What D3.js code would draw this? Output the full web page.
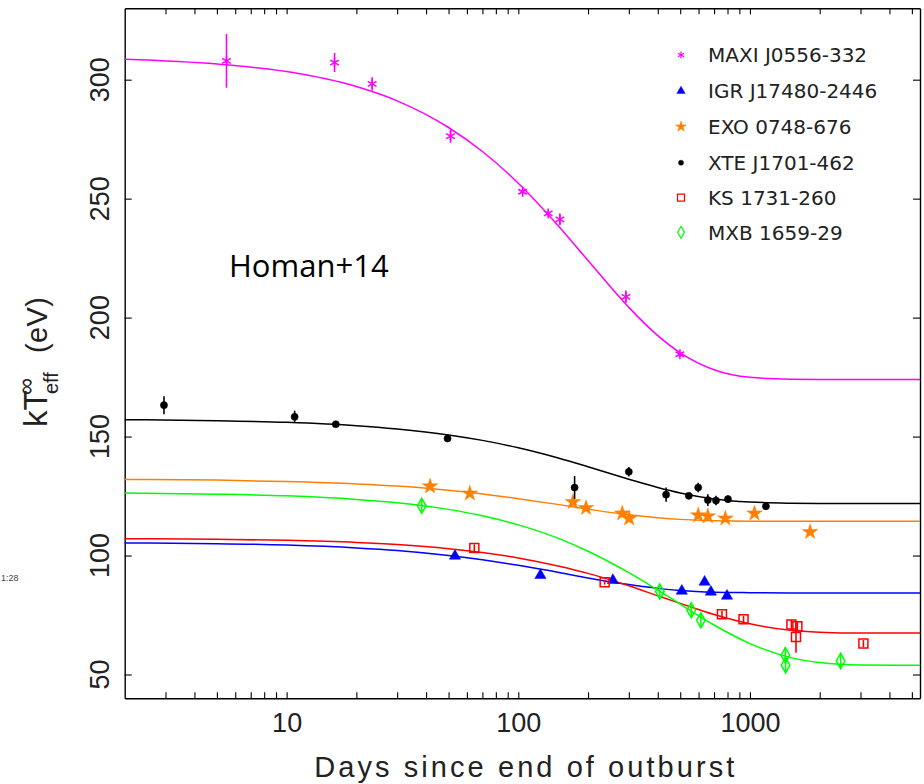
<!DOCTYPE html>
<html>
<head>
<meta charset="utf-8">
<script src="https://cdn.jsdelivr.net/npm/d3@7"></script>
<style>
  html, body { margin: 0; padding: 0; background: #fff; }
  svg { display: block; }
</style>
</head>
<body>
<svg id="chart" width="924" height="784"></svg>
<script>
// ---------------- DATA ----------------
const seriesNames = ["MAXI J0556-332", "IGR J17480-2446", "EXO 0748-676", "XTE J1701-462", "KS 1731-260", "MXB 1659-29"];

const maxiDays = [5.5, 16.1, 23.4, 51, 104.4, 134.6, 151.2, 291.4, 498.5];
const maxiKT   = [307.9, 307.2, 298.2, 276.3, 252.9, 243.8, 241.3, 208.7, 184.6];
const maxiErr  = [11.3, 4, 2.8, 2.8, 1.2, 1.2, 2.5, 2.7, 1.2];

const igrDays = [53.3, 124.6, 256, 508, 637, 678, 796];
const igrKT   = [99.8, 91.7, 89.6, 85.1, 88.9, 84.7, 83.0];
const igrErr  = [0.5, 0.5, 0.5, 0.5, 0.5, 0.5, 0.5];

const exoDays = [41.6, 61.8, 172, 196, 281, 301, 598, 658, 783, 1046, 1818];
const exoKT   = [129.1, 126.1, 122.5, 120.0, 117.7, 115.6, 116.9, 116.5, 115.6, 117.7, 109.9];
const exoErr  = [1, 1, 1, 1, 1, 1, 1, 1, 1, 1, 1];

const xteDays = [2.955, 10.83, 16.3, 49.5, 175, 300, 434.5, 544.5, 597.9, 658, 713.6, 803.6, 1172];
const xteKT   = [163.2, 158.3, 155.2, 149.2, 128.6, 135.2, 125.6, 125.1, 128.6, 123.3, 123.1, 123.7, 120.7];
const xteErr  = [3.8, 2.6, 0.8, 0.8, 4.8, 2, 3, 1, 2, 2.5, 2, 1.5, 1.5];

const ksDays = [64.6, 236, 757, 938, 1510, 1602, 1580, 3088];
const ksKT   = [103.2, 88.8, 75.3, 73.2, 71.0, 70.3, 65.8, 63.0];
const ksErr  = [1.5, 1, 1.5, 1.5, 2, 2, 6.7, 1.5];

const mxbDays = [38.3, 408, 558, 614, 1421, 1425, 2462];
const mxbKT   = [120.9, 84.9, 77.0, 72.8, 58.1, 53.9, 55.7];
const mxbErr  = [2.5, 2.5, 3, 3, 3.5, 3.5, 3.5];

// fitted cooling curves
const fitDays = [2, 5, 10, 20, 30, 50, 70, 100, 150, 200, 300, 400, 500, 700, 1000, 1500, 2000, 3000, 5420];
const maxiFit = [308.6, 306.6, 303.4, 297.1, 291.1, 279.9, 269.8, 256.5, 238.2, 224.0, 204.3, 192.4, 185.2, 178.1, 174.9, 174.1, 174.0, 174.0, 174.0];
const igrFit  = [105.3, 105.0, 104.4, 103.2, 102.1, 100.0, 98.2, 95.9, 92.9, 90.6, 87.8, 86.2, 85.3, 84.6, 84.4, 84.3, 84.3, 84.3, 84.3];
const exoFit  = [132.0, 131.7, 131.1, 130.1, 129.2, 127.4, 125.9, 123.9, 121.4, 119.5, 117.1, 115.9, 115.2, 114.6, 114.4, 114.4, 114.4, 114.4, 114.4];
const xteFit  = [157.1, 156.7, 156.0, 154.6, 153.2, 150.7, 148.4, 145.3, 140.9, 137.3, 132.1, 128.6, 126.3, 123.8, 122.5, 122.0, 121.9, 121.9, 121.9];
const ksFit   = [107.1, 106.8, 106.4, 105.5, 104.6, 102.9, 101.3, 99.0, 95.5, 92.5, 87.3, 83.1, 79.9, 75.2, 71.3, 68.6, 67.8, 67.4, 67.4];
const mxbFit  = [126.3, 125.8, 125.1, 123.6, 122.2, 119.4, 116.7, 112.9, 107.1, 101.8, 92.8, 85.5, 79.6, 70.8, 63.0, 57.1, 55.0, 54.0, 53.9];

const xTickLabels = [10, 100, 1000];
const yTickValues = [50, 100, 150, 200, 250, 300];

// ---------------- LAYOUT ----------------
const L = 124.7, R = 920, T = 8.3, B = 698.3;
const svg = d3.select("#chart");

const x = d3.scaleLog().domain([2, 5420]).range([L, R]);
const y = d3.scaleLinear().domain([40, 330]).range([B, T]);

// custom symbols
const asterisk = {
  draw(ctx, size) {
    const r = Math.sqrt(size) / 2;
    ctx.moveTo(0, -r); ctx.lineTo(0, r);
    const dx = r * Math.cos(Math.PI / 6), dy = r * Math.sin(Math.PI / 6);
    ctx.moveTo(-dx, -dy); ctx.lineTo(dx, dy);
    ctx.moveTo(-dx, dy); ctx.lineTo(dx, -dy);
  }
};

const series = [
  { name: seriesNames[0], days: maxiDays, kt: maxiKT, err: maxiErr, fit: maxiFit, color: "#ff00ff", sym: asterisk, size: 100, fill: false, lsize: 50 },
  { name: seriesNames[1], days: igrDays, kt: igrKT, err: igrErr, fit: igrFit, color: "#0000ff", sym: d3.symbolTriangle, size: 55, fill: true, lsize: 30 },
  { name: seriesNames[2], days: exoDays, kt: exoKT, err: exoErr, fit: exoFit, color: "#ff8000", sym: d3.symbolStar, size: 75, fill: true, lsize: 35 },
  { name: seriesNames[3], days: xteDays, kt: xteKT, err: xteErr, fit: xteFit, color: "#000000", sym: d3.symbolCircle, size: 40, fill: true, lsize: 20 },
  { name: seriesNames[4], days: ksDays, kt: ksKT, err: ksErr, fit: ksFit, color: "#ff0000", sym: d3.symbolSquare, size: 81, fill: false, lsize: 49 },
  { name: seriesNames[5], days: mxbDays, kt: mxbKT, err: mxbErr, fit: mxbFit, color: "#00ff00", sym: d3.symbolDiamond, size: 65, fill: false, lsize: 40 }
];

// ---------------- AXES ----------------
const allXTicks = [];
[1, 10, 100, 1000].forEach(dec => { for (let k = 1; k <= 9; k++) { const v = dec * k; if (v > 2 && v < 5420) allXTicks.push(v); } });

const axisFont = "'Liberation Sans', Arial, sans-serif";

const gxB = svg.append("g").attr("transform", `translate(0,${B})`)
  .call(d3.axisBottom(x).tickValues(allXTicks).tickSize(-6).tickSizeOuter(0).tickPadding(15)
    .tickFormat(d => xTickLabels.includes(d) ? String(d) : ""));
const gxT = svg.append("g").attr("transform", `translate(0,${T})`)
  .call(d3.axisTop(x).tickValues(allXTicks).tickSize(-6).tickSizeOuter(0).tickFormat(""));
const gyL = svg.append("g").attr("transform", `translate(${L},0)`)
  .call(d3.axisLeft(y).tickValues(yTickValues).tickSize(-7).tickSizeOuter(0).tickFormat(""));
const gyR = svg.append("g").attr("transform", `translate(${R},0)`)
  .call(d3.axisRight(y).tickValues(yTickValues).tickSize(-7).tickSizeOuter(0).tickFormat(""));

[gxB, gxT, gyL, gyR].forEach(g => {
  g.select(".domain").attr("stroke", "#000").attr("stroke-width", 1.4);
  g.selectAll(".tick line").attr("stroke", "#000").attr("stroke-width", 1.1);
});
gxB.selectAll(".tick text").attr("font-family", axisFont).attr("font-size", 27).attr("fill", "#222");

// rotated y tick labels
svg.append("g").selectAll("text").data(yTickValues).join("text")
  .attr("transform", d => `translate(108.5,${y(d)}) rotate(-90)`)
  .attr("text-anchor", "middle")
  .attr("font-family", axisFont).attr("font-size", 27).attr("fill", "#222")
  .text(d => d);

// axis titles
svg.append("text")
  .attr("x", (L + R) / 2 + 2).attr("y", 777)
  .attr("text-anchor", "middle")
  .attr("font-family", axisFont).attr("font-size", 29).attr("fill", "#222")
  .attr("textLength", 420).attr("lengthAdjust", "spacing")
  .text("Days since end of outburst");

const yt = svg.append("g").attr("transform", "translate(47,427) rotate(-90)")
  .attr("font-family", axisFont).attr("fill", "#222");
yt.append("text").attr("x", 0).attr("y", 0).attr("font-size", 33).text("kT");
yt.append("text").attr("x", 33).attr("y", 11).attr("font-size", 20).text("eff");
yt.append("text").attr("x", 32).attr("y", -13).attr("font-size", 24).text("∞");
yt.append("text").attr("x", 74).attr("y", 0).attr("font-size", 29)
  .attr("textLength", 56).attr("lengthAdjust", "spacing").text("(eV)");

// ---------------- CURVES ----------------
const plot = svg.append("g");
const line = d3.line().x(d => x(d[0])).y(d => y(d[1])).curve(d3.curveMonotoneX);
series.forEach(s => {
  plot.append("path")
    .datum(fitDays.map((d, i) => [d, s.fit[i]]))
    .attr("d", line)
    .attr("fill", "none").attr("stroke", s.color).attr("stroke-width", 1.5);
});

// ---------------- POINTS ----------------
series.forEach(s => {
  const pts = s.days.map((d, i) => ({ d, v: s.kt[i], e: s.err[i] }));
  const g = plot.append("g");
  g.selectAll("line.err").data(pts).join("line").attr("class", "err")
    .attr("x1", p => x(p.d)).attr("x2", p => x(p.d))
    .attr("y1", p => y(p.v - p.e)).attr("y2", p => y(p.v + p.e))
    .attr("stroke", s.color).attr("stroke-width", 1.6);
  g.selectAll("path.sym").data(pts).join("path").attr("class", "sym")
    .attr("transform", p => `translate(${x(p.d)},${y(p.v)})`)
    .attr("d", d3.symbol().type(s.sym).size(s.size))
    .attr("fill", s.fill ? s.color : "none")
    .attr("stroke", s.color)
    .attr("stroke-width", s.fill ? 0.5 : 1.5);
});

// ---------------- LEGEND ----------------
const legendRowY = [55, 91, 126.7, 162.7, 197.7, 232.3];
const lg = svg.append("g");
series.forEach((s, i) => {
  lg.append("path")
    .attr("transform", `translate(681,${legendRowY[i]})`)
    .attr("d", d3.symbol().type(s.sym).size(s.lsize))
    .attr("fill", s.fill ? s.color : "none")
    .attr("stroke", s.color)
    .attr("stroke-width", s.fill ? 0.5 : 1.2);
  lg.append("text")
    .attr("x", 708).attr("y", legendRowY[i] + 7.3)
    .attr("font-family", "'DejaVu Sans', sans-serif").attr("font-size", 20).attr("fill", "#222")
    .text(s.name);
});

// ---------------- ANNOTATIONS ----------------
svg.append("text")
  .attr("x", 229).attr("y", 277)
  .attr("font-family", "'Open Sans', sans-serif").attr("font-size", 31).attr("fill", "#000")
  .text("Homan+14");

svg.append("text")
  .attr("x", 1).attr("y", 581)
  .attr("font-family", "'Liberation Sans', Arial, sans-serif").attr("font-size", 9).attr("fill", "#444")
  .text("1:28");
</script>
</body>
</html>
